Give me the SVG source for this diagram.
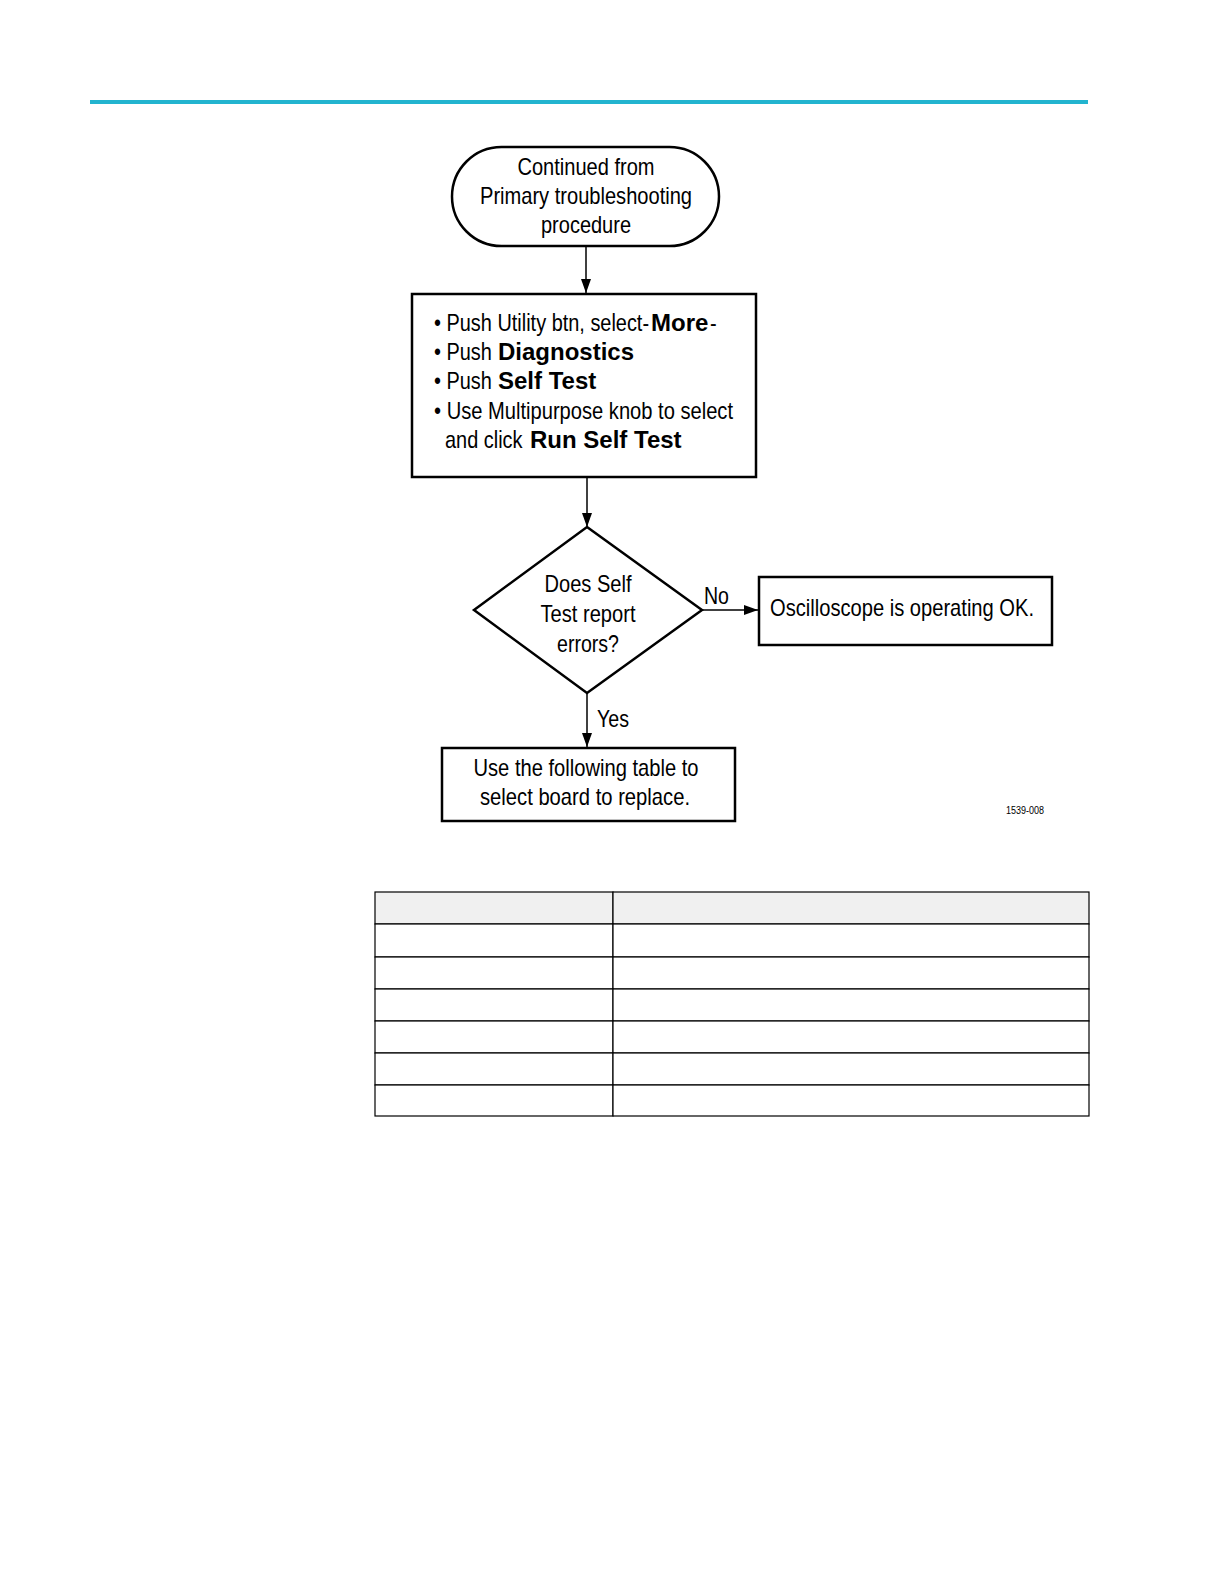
<svg xmlns="http://www.w3.org/2000/svg" width="1224" height="1584" viewBox="0 0 1224 1584">
<defs>
<marker id="ah" markerWidth="14" markerHeight="10" refX="14" refY="5" orient="auto" markerUnits="userSpaceOnUse">
<path d="M0,0 L14,5 L0,10 Z" fill="#000"/>
</marker>
<style>
.shape{fill:#fff;stroke:#000;stroke-width:2.5}
.t{font-family:"Liberation Sans",Arial,sans-serif;font-size:24px;fill:#000}
.tc{text-anchor:middle}
.b{font-weight:bold}
.conn{stroke:#000;stroke-width:1.5;fill:none;marker-end:url(#ah)}
.cell{fill:#fff;stroke:#000;stroke-width:1.2}
.hdr{fill:#f0f0f0;stroke:#000;stroke-width:1.2}
</style>
</defs>
<rect width="1224" height="1584" fill="#fff"/>
<rect x="90" y="100" width="998" height="4" fill="#22b4cf"/>

<g id="connectors">
<line class="conn" x1="586" y1="246" x2="586" y2="293"/>
<line class="conn" x1="587" y1="478" x2="587" y2="527"/>
<line class="conn" x1="702" y1="610" x2="758" y2="610"/>
<line class="conn" x1="587" y1="693" x2="587" y2="747"/>
<text class="t" x="704" y="604" textLength="25" lengthAdjust="spacingAndGlyphs">No</text>
<text class="t" x="597" y="727" textLength="32" lengthAdjust="spacingAndGlyphs">Yes</text>
</g>

<g id="start">
<rect class="shape" x="452" y="147" width="267" height="99" rx="49.5" ry="49.5"/>
<text class="t tc" x="586" y="175" textLength="137" lengthAdjust="spacingAndGlyphs">Continued from</text>
<text class="t tc" x="586" y="204" textLength="212" lengthAdjust="spacingAndGlyphs">Primary troubleshooting</text>
<text class="t tc" x="586" y="233" textLength="90" lengthAdjust="spacingAndGlyphs">procedure</text>
</g>

<g id="selftest">
<rect class="shape" x="412" y="294" width="344" height="183"/>
<text class="t" transform="translate(434,331) scale(0.83,1)">• Push Utility btn, select-</text>
<text class="t b" x="651" y="331">More</text>
<text class="t" transform="translate(710,331) scale(0.83,1)">-</text>
<text class="t" transform="translate(434,360) scale(0.83,1)">• Push</text>
<text class="t b" x="498" y="360">Diagnostics</text>
<text class="t" transform="translate(434,389) scale(0.83,1)">• Push</text>
<text class="t b" x="498" y="389">Self Test</text>
<text class="t" x="434" y="419" textLength="299" lengthAdjust="spacingAndGlyphs">• Use Multipurpose knob to select</text>
<text class="t" transform="translate(445,448) scale(0.83,1)">and click</text>
<text class="t b" x="530" y="448">Run Self Test</text>
</g>

<g id="decision">
<polygon class="shape" points="587,527 702,610 587,693 474,610"/>
<text class="t tc" x="588" y="592" textLength="87" lengthAdjust="spacingAndGlyphs">Does Self</text>
<text class="t tc" x="588" y="622" textLength="95" lengthAdjust="spacingAndGlyphs">Test report</text>
<text class="t tc" x="588" y="652" textLength="62" lengthAdjust="spacingAndGlyphs">errors?</text>
</g>

<g id="ok">
<rect class="shape" x="759" y="577" width="293" height="68"/>
<text class="t" x="770" y="616" textLength="264" lengthAdjust="spacingAndGlyphs">Oscilloscope is operating OK.</text>
</g>

<g id="replace">
<rect class="shape" x="442" y="748" width="293" height="73"/>
<text class="t tc" x="586" y="776" textLength="225" lengthAdjust="spacingAndGlyphs">Use the following table to</text>
<text class="t tc" x="585" y="805" textLength="210" lengthAdjust="spacingAndGlyphs">select board to replace.</text>
</g>

<text x="1006" y="814" font-family="Liberation Sans,Arial,sans-serif" font-size="10" textLength="38" lengthAdjust="spacingAndGlyphs">1539-008</text>

<g id="table">
<rect class="hdr" x="375" y="892" width="238" height="32"/>
<rect class="hdr" x="613" y="892" width="476" height="32"/>
<rect class="cell" x="375" y="924" width="238" height="33"/>
<rect class="cell" x="613" y="924" width="476" height="33"/>
<rect class="cell" x="375" y="957" width="238" height="32"/>
<rect class="cell" x="613" y="957" width="476" height="32"/>
<rect class="cell" x="375" y="989" width="238" height="32"/>
<rect class="cell" x="613" y="989" width="476" height="32"/>
<rect class="cell" x="375" y="1021" width="238" height="32"/>
<rect class="cell" x="613" y="1021" width="476" height="32"/>
<rect class="cell" x="375" y="1053" width="238" height="32"/>
<rect class="cell" x="613" y="1053" width="476" height="32"/>
<rect class="cell" x="375" y="1085" width="238" height="31"/>
<rect class="cell" x="613" y="1085" width="476" height="31"/>
</g>
</svg>
